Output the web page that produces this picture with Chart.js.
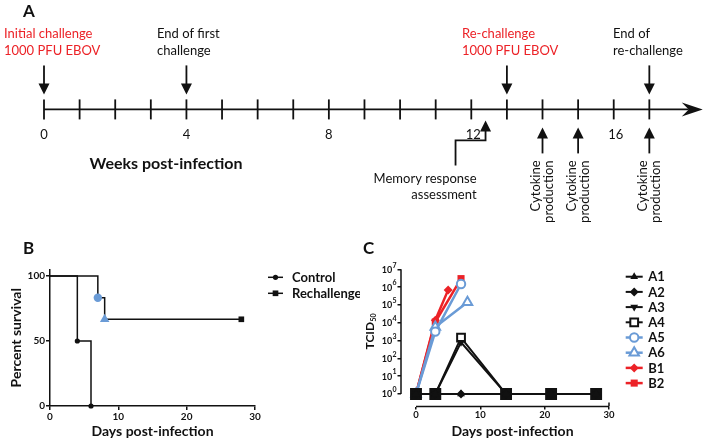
<!DOCTYPE html>
<html lang="en">
<head>
<meta charset="UTF-8">
<title>EBOV re-challenge</title>
<script src="https://cdn.jsdelivr.net/npm/chart.js"></script>
<style>
  html, body { margin: 0; padding: 0; background: #fff; }
  #wrap { position: relative; width: 706px; height: 442px; overflow: hidden; }
  canvas { position: absolute; }
  #timeline { left: 0; top: 0; }
  #survival { left: 0; top: 230px; }
  #titer { left: 360px; top: 230px; }
</style>
</head>
<body>
<div id="wrap">
  <canvas id="timeline" width="706" height="230"></canvas>
  <canvas id="survival" width="360" height="212"></canvas>
  <canvas id="titer" width="346" height="212"></canvas>
</div>
<script>
// ---- panel A: timeline (weeks) ----
const weekTicks = [0, 1, 2, 3, 4, 5, 6, 7, 8, 9, 10, 11, 12, 13, 14, 15, 16, 17];
const weekLabels = [0, 4, 8, 12, 16];
const challengeWeeks = [0, 4, 13, 17];
const challengeText = [
  ['Initial challenge', '1000 PFU EBOV'],
  ['End of first', 'challenge'],
  ['Re-challenge', '1000 PFU EBOV'],
  ['End of', 're-challenge']
];
const challengeIsDose = [true, false, true, false];
const cytokineWeeks = [14, 15, 17];
const memoryWeek = 12.4;
const axisEndWeek = 18.5;

// ---- panel B: survival ----
const controlDays = [0, 4, 6];
const controlSurvival = [100, 50, 0];
const rechallengeDays = [0, 7, 8, 28];
const rechallengeSurvival = [100, 83.3, 66.7, 66.7];
const survivalXTicks = [0, 10, 20, 30];
const survivalYTicks = [0, 50, 100];

// ---- panel C: TCID50 ----
const a1Days = [0, 3, 7, 14, 21, 28];
const a1Titer = [1, 1, 1, 1, 1, 1];
const a2Days = [0, 3, 7, 14, 21, 28];
const a2Titer = [1, 1, 1, 1, 1, 1];
const a3Days = [0, 3, 7, 14, 21, 28];
const a3Titer = [1, 1, 800, 1, 1, 1];
const a4Days = [0, 3, 7, 14, 21, 28];
const a4Titer = [1, 1, 1450, 1, 1, 1];
const a5Days = [0, 3, 7];
const a5Titer = [1, 3200, 1.5e6];
const a6Days = [0, 3, 8];
const a6Titer = [1, 5800, 1.4e5];
const b1Days = [0, 3, 5];
const b1Titer = [1, 14000, 7e5];
const b2Days = [0, 3, 7];
const b2Titer = [1, 11000, 3e6];
const titerXTicks = [0, 10, 20, 30];
const titerYTicks = [1, 10, 100, 1e3, 1e4, 1e5, 1e6, 1e7];

const ink = '#111';
const red = '#ec2227';
const blue = '#6a9bd6';
const FONT = 'Lato';

Chart.defaults.font.family = FONT;
Chart.defaults.color = ink;

function pts(xs, ys) { return xs.map((x, i) => ({ x: x, y: ys[i] })); }
function seg(ctx, x1, y1, x2, y2) { ctx.beginPath(); ctx.moveTo(x1, y1); ctx.lineTo(x2, y2); ctx.stroke(); }

function panelLetter(letter, x, y) {
  return {
    id: 'letter' + letter,
    afterDraw(chart) {
      const ctx = chart.ctx;
      ctx.save();
      ctx.fillStyle = ink;
      ctx.font = 'bold 17px ' + FONT;
      ctx.textAlign = 'left';
      ctx.textBaseline = 'middle';
      ctx.fillText(letter, x, y);
      ctx.restore();
    }
  };
}

// legend drawn beside the plot, one row per dataset
function sideLegend(o) {
  return {
    id: 'sideLegend',
    afterDraw(chart) {
      const ctx = chart.ctx;
      chart.data.datasets.forEach((ds, i) => {
        const y = o.y0 + i * o.dy;
        const m = ds.legendMarker;
        ctx.save();
        ctx.strokeStyle = ds.borderColor;
        ctx.lineWidth = ds.borderWidth;
        seg(ctx, o.x0, y, o.x1, y);
        ctx.fillStyle = m.fill;
        ctx.strokeStyle = ds.borderColor;
        ctx.lineWidth = m.border || 0;
        Chart.helpers.drawPoint(ctx, { pointStyle: m.style, radius: m.radius, rotation: m.rotation || 0, borderWidth: m.border || 0 }, (o.x0 + o.x1) / 2, y);
        ctx.fillStyle = ink;
        ctx.font = 'bold ' + o.size + 'px ' + FONT;
        ctx.textAlign = 'left';
        ctx.textBaseline = 'middle';
        ctx.fillText(ds.label, o.tx, y + 0.5);
        ctx.restore();
      });
    }
  };
}

// ---------------- Panel A ----------------
const timelinePlugin = {
  id: 'timeline',
  afterDatasetsDraw(chart) {
    const ctx = chart.ctx;
    const xs = chart.scales.x;
    const px = w => xs.getPixelForValue(w);
    const ay = chart.scales.y.getPixelForValue(0);
    ctx.save();
    ctx.strokeStyle = ink;
    ctx.fillStyle = ink;
    ctx.lineWidth = 1.8;

    // main axis with arrow head
    const tip = px(axisEndWeek);
    seg(ctx, px(0), ay, tip - 14, ay);
    ctx.beginPath();
    ctx.moveTo(tip, ay);
    ctx.lineTo(tip - 21, ay - 7);
    ctx.lineTo(tip - 14, ay);
    ctx.lineTo(tip - 21, ay + 7);
    ctx.closePath();
    ctx.fill();

    ctx.font = '13px ' + FONT;
    ctx.textAlign = 'center';
    ctx.textBaseline = 'middle';
    weekLabels.forEach(w => ctx.fillText(String(w), px(w) + (w >= 10 ? 2 : 0), ay + 25));

    ctx.font = 'bold 16px ' + FONT;
    ctx.fillText('Weeks post-infection', 166, ay + 54);

    // challenge arrows (down)
    const labelLeft = [4, 157, 462, 613];
    challengeWeeks.forEach((w, i) => {
      const x = px(w);
      seg(ctx, x, ay - 44, x, ay - 22);
      ctx.beginPath();
      ctx.moveTo(x, ay - 15);
      ctx.lineTo(x - 5.5, ay - 26);
      ctx.lineTo(x + 5.5, ay - 26);
      ctx.closePath();
      ctx.fill();
      ctx.save();
      ctx.fillStyle = challengeIsDose[i] ? red : ink;
      ctx.font = '13px ' + FONT;
      ctx.textAlign = 'left';
      challengeText[i].forEach((t, k) => ctx.fillText(t, labelLeft[i], 34 + k * 17));
      ctx.restore();
    });

    // cytokine arrows (up)
    cytokineWeeks.forEach(w => {
      const x = px(w);
      seg(ctx, x, ay + 26, x, ay + 44);
      ctx.beginPath();
      ctx.moveTo(x, ay + 18);
      ctx.lineTo(x - 5.5, ay + 29);
      ctx.lineTo(x + 5.5, ay + 29);
      ctx.closePath();
      ctx.fill();
      ctx.save();
      ctx.translate(x, ay + 51);
      ctx.rotate(-Math.PI / 2);
      ctx.font = '13px ' + FONT;
      ctx.textAlign = 'right';
      ctx.textBaseline = 'middle';
      ctx.fillText('Cytokine', 0, -6.5);
      ctx.fillText('production', 0, 6.5);
      ctx.restore();
    });

    // memory response elbow arrow
    const mx = px(memoryWeek);
    ctx.beginPath();
    ctx.moveTo(mx, ay + 19);
    ctx.lineTo(mx, ay + 31);
    ctx.lineTo(mx - 30, ay + 31);
    ctx.lineTo(mx - 30, ay + 56);
    ctx.stroke();
    ctx.beginPath();
    ctx.moveTo(mx, ay + 11);
    ctx.lineTo(mx - 5.5, ay + 22);
    ctx.lineTo(mx + 5.5, ay + 22);
    ctx.closePath();
    ctx.fill();
    ctx.font = '13px ' + FONT;
    ctx.textAlign = 'right';
    ctx.fillText('Memory response', mx - 9, ay + 69);
    ctx.fillText('assessment', mx - 9, ay + 85);
    ctx.restore();
  }
};

// the tick marks are points, so the line controller reserves ~11px of overflow
// on the right/top; padding and max are set with that in mind
new Chart(document.getElementById('timeline'), {
  type: 'scatter',
  data: {
    datasets: [{
      label: 'weeks',
      data: weekTicks.map(w => ({ x: w, y: 0 })),
      pointStyle: 'line',
      pointRotation: 90,
      pointRadius: 10,
      pointBorderWidth: 1.8,
      borderColor: ink,
      pointBorderColor: ink,
      clip: false
    }]
  },
  options: {
    responsive: false,
    animation: false,
    devicePixelRatio: 1,
    events: [],
    layout: { padding: { left: 44, right: 11, top: 11, bottom: 23 } },
    scales: {
      x: { type: 'linear', min: 0, max: 18.26, display: false },
      y: { type: 'linear', min: -1, max: 1, display: false }
    },
    plugins: { legend: { display: false }, tooltip: { enabled: false } }
  },
  plugins: [timelinePlugin, panelLetter('A', 23, 12)]
});

// ---------------- Panel B ----------------
new Chart(document.getElementById('survival'), {
  type: 'line',
  data: {
    datasets: [
      {
        label: 'Control',
        data: pts(controlDays, controlSurvival),
        stepped: 'before',
        borderColor: ink,
        borderWidth: 1.5,
        pointStyle: 'circle',
        pointRadius: [0, 2.6, 2.6],
        pointBackgroundColor: ink,
        pointBorderWidth: 0,
        clip: false,
        legendMarker: { style: 'circle', radius: 2.6, fill: ink }
      },
      {
        label: 'Rechallenge',
        data: pts(rechallengeDays, rechallengeSurvival),
        stepped: 'before',
        borderColor: ink,
        borderWidth: 1.5,
        pointStyle: ['circle', 'circle', 'triangle', 'rect'],
        pointRadius: [0, 4.2, 5.5, 4],
        pointBackgroundColor: [ink, blue, blue, ink],
        pointBorderWidth: 0,
        clip: false,
        legendMarker: { style: 'rect', radius: 4, fill: ink }
      }
    ]
  },
  options: {
    responsive: false,
    animation: false,
    devicePixelRatio: 1,
    events: [],
    layout: { padding: { left: 0, right: 105, top: 39.5, bottom: 0 } },
    scales: {
      x: {
        type: 'linear', min: 0, max: 30,
        afterBuildTicks: s => { s.ticks = survivalXTicks.map(v => ({ value: v })); },
        afterFit: s => { s.height = 36; },
        grid: { drawOnChartArea: false, tickLength: 4, color: ink, lineWidth: 1.5 },
        border: { display: true, color: ink, width: 1.5 },
        ticks: { font: { weight: 'bold', size: 10 }, color: ink, padding: 1, maxRotation: 0, autoSkip: false },
        title: { display: true, text: 'Days post-infection', font: { weight: 'bold', size: 14 }, color: ink, padding: { top: 0, bottom: 2 } }
      },
      y: {
        type: 'linear', min: 0, max: 105,
        afterBuildTicks: s => { s.ticks = survivalYTicks.map(v => ({ value: v })); },
        afterFit: s => { s.width = 50; },
        grid: { drawOnChartArea: false, tickLength: 4, color: ink, lineWidth: 1.5 },
        border: { display: true, color: ink, width: 1.5 },
        ticks: { font: { weight: 'bold', size: 10 }, color: ink, padding: 1, autoSkip: false },
        title: { display: true, text: 'Percent survival', font: { weight: 'bold', size: 14 }, color: ink, padding: { top: 8, bottom: 0 } }
      }
    },
    plugins: { legend: { display: false }, tooltip: { enabled: false } }
  },
  plugins: [
    sideLegend({ x0: 268, x1: 283, tx: 292, y0: 47.3, dy: 16, size: 13 }),
    panelLetter('B', 23, 19)
  ]
});

// ---------------- Panel C ----------------
const titerAxes = {
  id: 'titerAxes',
  afterDraw(chart) {
    const ctx = chart.ctx;
    const xs = chart.scales.x, ys = chart.scales.y;
    const area = chart.chartArea;
    const x0 = xs.getPixelForValue(titerXTicks[0]);
    const x1 = xs.getPixelForValue(titerXTicks[titerXTicks.length - 1]);
    const yTop = ys.getPixelForValue(titerYTicks[titerYTicks.length - 1]);
    const yBot = ys.getPixelForValue(titerYTicks[0]);
    ctx.save();
    ctx.strokeStyle = ink;
    ctx.fillStyle = ink;
    ctx.lineWidth = 1.5;
    seg(ctx, x0, area.bottom, x1, area.bottom);
    seg(ctx, x1, area.bottom - 4, x1, area.bottom);
    seg(ctx, area.left, yTop, area.left, yBot);

    // y tick labels as 10 with raised exponent
    const right = area.left - 4.5;
    ctx.textAlign = 'right';
    ctx.textBaseline = 'middle';
    titerYTicks.forEach(v => {
      const y = ys.getPixelForValue(v);
      const e = String(Math.round(Math.log10(v)));
      ctx.font = 'bold 7px ' + FONT;
      const ew = ctx.measureText(e).width;
      ctx.fillText(e, right, y - 4);
      ctx.font = 'bold 9px ' + FONT;
      ctx.fillText('10', right - ew - 0.3, y + 0.5);
    });

    // axis titles
    ctx.font = 'bold 14px ' + FONT;
    ctx.textAlign = 'center';
    ctx.fillText('Days post-infection', (x0 + x1) / 2, 201.5);

    ctx.save();
    ctx.translate(10, (yTop + yBot) / 2);
    ctx.rotate(-Math.PI / 2);
    ctx.font = 'bold 12px ' + FONT;
    const tw = ctx.measureText('TCID').width;
    ctx.font = 'bold 7px ' + FONT;
    const sw = ctx.measureText('50').width;
    const start = -(tw + sw) / 2;
    ctx.textAlign = 'left';
    ctx.font = 'bold 12px ' + FONT;
    ctx.fillText('TCID', start, 0);
    ctx.font = 'bold 7px ' + FONT;
    ctx.fillText('50', start + tw + 0.5, 3.5);
    ctx.restore();
    ctx.restore();
  }
};

function titerSet(label, days, vals, color, width, marker, extra) {
  return Object.assign({
    label: label,
    data: pts(days, vals),
    borderColor: color,
    borderWidth: width,
    pointBorderColor: color,
    pointStyle: marker.style,
    pointRadius: marker.radius,
    pointRotation: marker.rotation || 0,
    pointBackgroundColor: marker.fill,
    pointBorderWidth: marker.border || 0,
    clip: false,
    legendMarker: marker
  }, extra || {});
}

new Chart(document.getElementById('titer'), {
  type: 'line',
  data: {
    datasets: [
      titerSet('A1', a1Days, a1Titer, ink, 2, { style: 'triangle', radius: 4.5, fill: ink }),
      titerSet('A2', a2Days, a2Titer, ink, 2, { style: 'rectRot', radius: 4.5, fill: ink }),
      titerSet('A3', a3Days, a3Titer, ink, 2, { style: 'triangle', radius: 4.5, rotation: 180, fill: ink }),
      titerSet('A4', a4Days, a4Titer, ink, 2, { style: 'rect', radius: 5.5, fill: '#fff', border: 2 },
        { pointBackgroundColor: a4Titer.map(v => v > 1 ? '#fff' : ink), pointRadius: a4Titer.map(v => v > 1 ? 5.5 : 7) }),
      titerSet('A5', a5Days, a5Titer, blue, 2.5, { style: 'circle', radius: 4.2, fill: '#fff', border: 2 }),
      titerSet('A6', a6Days, a6Titer, blue, 2.5, { style: 'triangle', radius: 5.5, fill: '#fff', border: 2 }),
      titerSet('B1', b1Days, b1Titer, red, 2.5, { style: 'rectRot', radius: 4.5, fill: red }),
      titerSet('B2', b2Days, b2Titer, red, 2.5, { style: 'rect', radius: 5, fill: red })
    ]
  },
  options: {
    responsive: false,
    animation: false,
    devicePixelRatio: 1,
    events: [],
    layout: { padding: { left: 0, right: 97, top: 39.3, bottom: 0 } },
    scales: {
      x: {
        type: 'linear', min: -2.33, max: 30,
        afterBuildTicks: s => { s.ticks = titerXTicks.map(v => ({ value: v })); },
        afterFit: s => { s.height = 35.5; },
        grid: { drawOnChartArea: false, tickLength: 3, color: ink, lineWidth: 1.5 },
        border: { display: false },
        ticks: { font: { weight: 'bold', size: 9.5 }, color: ink, padding: 0, maxRotation: 0, autoSkip: false }
      },
      y: {
        type: 'logarithmic', min: 0.2, max: 1e7,
        afterBuildTicks: s => { s.ticks = titerYTicks.map(v => ({ value: v })); },
        afterFit: s => { s.width = 41; },
        grid: { drawOnChartArea: false, tickLength: 3.5, color: ink, lineWidth: 1.5 },
        border: { display: false },
        ticks: { callback: () => '', autoSkip: false, padding: 0 }
      }
    },
    plugins: { legend: { display: false }, tooltip: { enabled: false } }
  },
  plugins: [
    titerAxes,
    sideLegend({ x0: 265.7, x1: 282.7, tx: 288.3, y0: 46.7, dy: 15.2, size: 13 }),
    panelLetter('C', 3, 19)
  ]
});
</script>
</body>
</html>
